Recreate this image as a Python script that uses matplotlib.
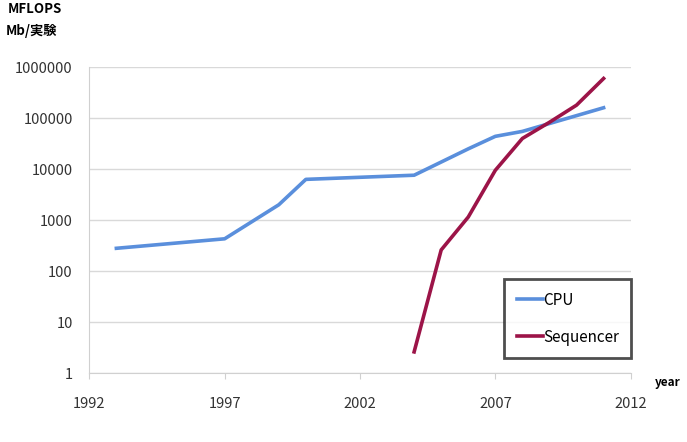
import matplotlib
matplotlib.use("Agg")
import matplotlib.pyplot as plt
from matplotlib.ticker import FixedLocator, FixedFormatter

plt.rcParams['font.family'] = ['Noto Sans CJK JP', 'DejaVu Sans']

# CPU performance (MFLOPS)
cpu_years = [1993, 1997, 1999, 2000, 2004, 2006, 2007, 2008, 2011]
cpu_vals = [280, 430, 2000, 6300, 7600, 25000, 44000, 55000, 160000]

# Sequencer throughput (Mb / run)
seq_years = [2004, 2005, 2006, 2007, 2008, 2009, 2010, 2011]
seq_vals = [2.6, 260, 1150, 9500, 40000, 83000, 180000, 600000]

x_ticks = [1992, 1997, 2002, 2007, 2012]
y_ticks = [1, 10, 100, 1000, 10000, 100000, 1000000]
y_labels = ['1', '10', '100', '1000', '10000', '100000', '1000000']

fig = plt.figure(figsize=(6.87, 4.42), dpi=100)
ax = fig.add_axes([0.130, 0.156, 0.788, 0.692])

ax.plot(cpu_years, cpu_vals, color='#5a8fdc', lw=2.6, label='CPU')
ax.plot(seq_years, seq_vals, color='#9c1448', lw=2.6, label='Sequencer')

ax.set_yscale('log')
ax.set_ylim(1, 1000000)
ax.set_xlim(1992, 2012)
ax.yaxis.set_major_locator(FixedLocator(y_ticks))
ax.yaxis.set_major_formatter(FixedFormatter(y_labels))
ax.yaxis.set_minor_locator(FixedLocator([]))
ax.set_xticks(x_ticks)
ax.set_xticklabels([str(t) for t in x_ticks])

ax.grid(True, axis='y', color='#d9d9d9', lw=1)
for s in ['top', 'right']:
    ax.spines[s].set_visible(False)
ax.spines['left'].set_color('#d0d0d0')
ax.spines['bottom'].set_color('#d0d0d0')
ax.tick_params(axis='both', colors='#333333', labelsize=10.5, length=4, color='#d0d0d0')
ax.tick_params(axis='y', length=0, pad=12)
ax.tick_params(axis='x', pad=13)

leg = ax.legend(loc='lower right', bbox_to_anchor=(1.01, 0.035), frameon=True,
                fancybox=False, fontsize=11, handlelength=1.7, handletextpad=0.05,
                labelspacing=1.3, borderpad=0.8, borderaxespad=0.3)
leg.get_frame().set_edgecolor('#222222')
leg.get_frame().set_linewidth(2)

fig.text(0.012, 0.995, 'MFLOPS', fontsize=9.5, fontweight='bold', va='top')
fig.text(0.008, 0.945, 'Mb/実験', fontsize=9.5, fontweight='bold', va='top')
fig.text(0.953, 0.135, 'year', fontsize=8.5, fontweight='bold', va='center')

fig.savefig('out.png', dpi=100)
